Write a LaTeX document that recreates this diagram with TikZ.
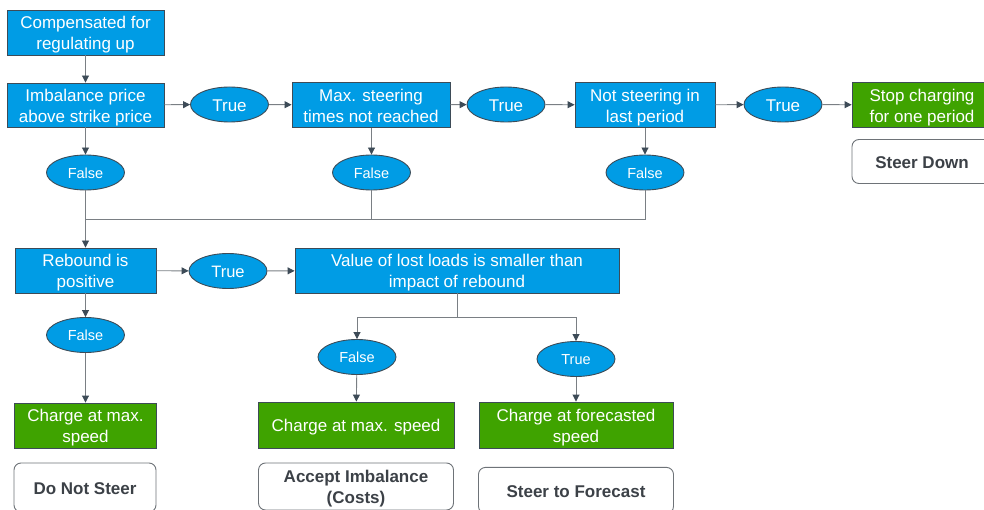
\documentclass[tikz,border=0pt]{standalone}
\usepackage{fontspec}
\setmainfont{Liberation Sans}
\usetikzlibrary{shapes.geometric,arrows.meta}
\definecolor{boxblue}{HTML}{009CE5}
\definecolor{boxgreen}{HTML}{3FA300}
\definecolor{edgedark}{HTML}{3D4B57}
\definecolor{linegray}{HTML}{7A7F84}
\definecolor{labeltext}{HTML}{3C4147}
\definecolor{outlinegray}{HTML}{6E7378}
\tikzset{
  % fixed text boxes so that every label sits the same way in its frame
  oneline/.style={text height=18pt, text depth=4.5pt},
  twoline/.style={text height=38.7pt, text depth=4.5pt},
  decision/.style={draw=edgedark, line width=0.9pt, fill=boxblue, text=white,
    rectangle, inner sep=0pt, align=center, font=\fontsize{17}{20.7}\selectfont},
  outcome/.style={decision, fill=boxgreen},
  verdict/.style={draw=outlinegray, line width=0.9pt, fill=white, text=labeltext,
    rectangle, rounded corners=7pt, inner sep=0pt, align=center,
    font=\fontsize{17}{20.7}\selectfont\bfseries},
  answer/.style={draw=edgedark, line width=0.9pt, fill=boxblue, text=white,
    ellipse, inner sep=0pt, minimum width=78pt, minimum height=35pt,
    font=\fontsize{17}{20}\selectfont, text height=18.3pt, text depth=4.5pt},
  smallanswer/.style={answer, font=\fontsize{14.5}{17}\selectfont,
    text height=16.3pt},
  flow/.style={draw=linegray, line width=0.9pt,
    -{Triangle[length=7pt,width=7pt,color=edgedark,fill=edgedark]}},
  plain/.style={draw=linegray, line width=0.9pt}
}
\begin{document}
\begin{tikzpicture}[x=1pt,y=-1pt]
\useasboundingbox (0,0) rectangle (984,510);
\clip (0,0) rectangle (984,510);

% first row of checks
\node[decision, twoline, minimum width=157pt, minimum height=45pt] (comp) at (85.5,32.5) {Compensated for\\regulating up};
\node[decision, twoline, minimum width=157pt, minimum height=44pt] (imb) at (85.5,105) {Imbalance price\\above strike price};
\node[answer] (t1) at (229.5,104.5) {True};
\node[decision, twoline, minimum width=158pt, minimum height=45pt] (maxs) at (371,105) {Max. steering\\times not reached};
\node[answer] (t2) at (506,104.5) {True};
\node[decision, twoline, minimum width=140pt, minimum height=45pt] (nots) at (645,105) {Not steering in\\last period};
\node[answer] (t3) at (783,104.5) {True};
\node[outcome, twoline, minimum width=140pt, minimum height=45pt] (stop) at (922,105) {Stop charging\\for one period};
\node[verdict, oneline, minimum width=140pt, minimum height=44pt] (down) at (922,161.5) {Steer Down};

\node[smallanswer] (f1) at (85.5,172.5) {False};
\node[smallanswer] (f2) at (371.5,172.5) {False};
\node[smallanswer] (f3) at (645,172.5) {False};

% rebound checks
\node[decision, twoline, minimum width=141pt, minimum height=45pt] (reb) at (85.5,270.5) {Rebound is\\positive};
\node[answer, font=\fontsize{16.5}{20}\selectfont, text height=17.9pt] (t4) at (228,271) {True};
\node[decision, twoline, minimum width=324pt, minimum height=45pt] (voll) at (457,270.5) {Value of lost loads is smaller than\\impact of rebound};

\node[smallanswer] (f4) at (85.5,335) {False};
\node[smallanswer] (f5) at (357,357) {False};
\node[smallanswer] (t5) at (576,359) {True};

% outcomes
\node[outcome, twoline, minimum width=142pt, minimum height=45pt] (cmax1) at (85.5,425.5) {Charge at max.\\speed};
\node[outcome, oneline, minimum width=196pt, minimum height=46pt] (cmax2) at (356,425) {Charge at max. speed};
\node[outcome, twoline, minimum width=194pt, minimum height=46pt] (cfc) at (576,425) {Charge at forecasted\\speed};

\node[verdict, oneline, minimum width=142pt, minimum height=49pt] (dns) at (85,487.5) {Do Not Steer};
\node[verdict, twoline, minimum width=195pt, minimum height=47pt] (acc) at (356,486.5) {Accept Imbalance\\(Costs)};
\node[verdict, oneline, minimum width=195pt, minimum height=46pt] (stf) at (576,490.4) {Steer to Forecast};

% junction points
\coordinate (merge) at (85.5,219);
\coordinate (split) at (457,317);

% connectors
\draw[flow] (comp) -- (imb);
\draw[flow] (imb) -- (t1);
\draw[flow] (t1) -- (maxs);
\draw[flow] (maxs) -- (t2);
\draw[flow] (t2) -- (nots);
\draw[flow] (nots) -- (t3);
\draw[flow] (t3) -- (stop);

\draw[flow] (imb) -- (f1);
\draw[flow] (maxs.south -| f2) -- (f2);
\draw[flow] (nots) -- (f3);

\draw[plain] (f1.south) -- (merge);
\draw[plain] (f2.south) -- (f2.south |- merge);
\draw[plain] (f3.south) -- (f3.south |- merge) -- (merge);
\draw[flow] (merge) -- (reb.north);

\draw[flow] (reb) -- (t4);
\draw[flow] (t4) -- (voll);
\draw[flow] (reb) -- (f4);
\draw[flow] (f4) -- (cmax1);

\draw[plain] (voll.south) -- (split);
\draw[flow] (split) -| (f5.north);
\draw[flow] (split) -| (t5.north);
\draw[flow] (f5) -- (cmax2);
\draw[flow] (t5) -- (cfc);
\end{tikzpicture}
\end{document}
